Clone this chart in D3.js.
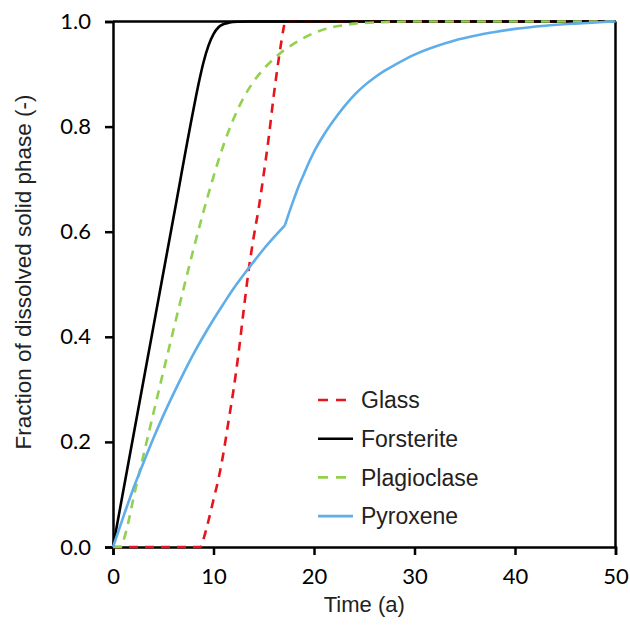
<!DOCTYPE html>
<html>
<head>
<meta charset="utf-8">
<script src="https://cdn.jsdelivr.net/npm/d3@7"></script>
<style>
  html, body { margin: 0; padding: 0; background: #fff; }
  svg { display: block; }
</style>
</head>
<body>
<svg id="chart" width="630" height="630"></svg>
<script>
// Dissolution curves: time in years, fraction of solid phase dissolved
const seriesNames = ["Glass", "Forsterite", "Plagioclase", "Pyroxene"];

const glassTime = [0, 8.7, 9.0, 9.5, 10, 10.5, 11, 11.5, 12, 12.5, 13, 13.5, 14, 14.5, 15, 15.5, 16, 16.5, 17, 17.1, 50];
const glassFrac = [0, 0, 0.015, 0.05, 0.09, 0.13, 0.18, 0.24, 0.30, 0.37, 0.45, 0.527, 0.59, 0.645, 0.71, 0.78, 0.86, 0.93, 0.99, 1.0, 1.0];

const forsteriteTime = [0, 2, 4, 6, 8, 8.5, 9, 9.5, 10, 10.5, 11, 11.6, 12.5, 13.5, 50];
const forsteriteFrac = [0, 0.209, 0.417, 0.625, 0.832, 0.88, 0.922, 0.954, 0.976, 0.989, 0.995, 0.998, 0.9995, 1.0, 1.0];

const plagioclaseTime = [0, 0.77, 1, 1.5, 2, 3, 4, 5, 6, 7, 8, 9, 10, 11, 12, 13, 14, 15, 16, 17, 18, 19, 20, 21, 22, 23, 24, 26, 28, 30, 50];
const plagioclaseFrac = [0, 0, 0.01, 0.045, 0.09, 0.172, 0.253, 0.333, 0.412, 0.49, 0.566, 0.638, 0.705, 0.765, 0.815, 0.855, 0.886, 0.91, 0.929, 0.945, 0.958, 0.969, 0.978, 0.985, 0.99, 0.993, 0.996, 0.998, 0.9995, 1.0, 1.0];

// Pyroxene has a sharp change of rate at 17.1 a; the two parts are drawn as separate smooth pieces
const pyroxeneBreak = 17.1;
const pyroxeneTime = [0, 1, 2, 3, 4, 5, 6, 7, 8, 9, 10, 11, 12, 13, 14, 15, 16, 17.1, 17.5, 18, 18.5, 19, 19.5, 20, 21, 22, 23, 24, 25, 26, 27, 28, 30, 32, 34, 36, 38, 40, 43, 46, 50];
const pyroxeneFrac = [0, 0.056, 0.11, 0.159, 0.206, 0.25, 0.291, 0.33, 0.367, 0.401, 0.433, 0.463, 0.492, 0.518, 0.543, 0.567, 0.589, 0.612, 0.635, 0.662, 0.688, 0.71, 0.732, 0.752, 0.785, 0.813, 0.838, 0.86, 0.878, 0.893, 0.906, 0.917, 0.937, 0.952, 0.964, 0.973, 0.98, 0.986, 0.992, 0.996, 1.0];

const xTicks = [0, 10, 20, 30, 40, 50];
const yTicks = [0, 0.2, 0.4, 0.6, 0.8, 1.0];

const width = 630, height = 630;
const margin = { top: 21.5, right: 14.5, bottom: 83, left: 113 };
const innerW = width - margin.left - margin.right;
const innerH = height - margin.top - margin.bottom;

const svg = d3.select("#chart");
const g = svg.append("g").attr("transform", `translate(${margin.left},${margin.top})`);

const x = d3.scaleLinear().domain([0, 50]).range([0, innerW]);
const y = d3.scaleLinear().domain([0, 1]).range([innerH, 0]);

const tickFont = "Lato, 'Open Sans', sans-serif";
const titleFont = "'Liberation Sans', Arial, sans-serif";

// Frame: top and right edges
g.append("line").attr("x1", 0).attr("x2", innerW).attr("y1", 0).attr("y2", 0)
  .attr("stroke", "#000").attr("stroke-width", 2.5);
g.append("line").attr("x1", innerW).attr("x2", innerW).attr("y1", 0).attr("y2", innerH)
  .attr("stroke", "#000").attr("stroke-width", 2.5);

// Axes
const xAxis = g.append("g").attr("transform", `translate(0,${innerH})`)
  .call(d3.axisBottom(x).tickValues(xTicks).tickFormat(d3.format("d")).tickSize(8).tickPadding(13));
const yAxis = g.append("g")
  .call(d3.axisLeft(y).tickValues(yTicks).tickFormat(d3.format(".1f")).tickSize(8).tickPadding(14));

[xAxis, yAxis].forEach(ax => {
  ax.select(".domain").attr("stroke", "#000").attr("stroke-width", 2.5);
  ax.selectAll(".tick line").attr("stroke", "#000").attr("stroke-width", 2.5);
  ax.selectAll(".tick text").attr("fill", "#000")
    .style("font-family", tickFont).style("font-size", "22px");
});

// Axis titles
svg.append("text")
  .attr("x", margin.left + innerW / 2).attr("y", 612)
  .attr("text-anchor", "middle")
  .style("font-family", titleFont).style("font-size", "22px").attr("fill", "#222")
  .text("Time (a)");
svg.append("text")
  .attr("transform", `translate(31,272) rotate(-90)`)
  .attr("text-anchor", "middle")
  .style("font-family", titleFont).style("font-size", "22.5px").attr("fill", "#222")
  .text("Fraction of dissolved solid phase (-)");

// Series
const series = [
  { name: seriesNames[0], t: glassTime, f: glassFrac, color: "#E8141B", dash: "9,7", breaks: [] },
  { name: seriesNames[1], t: forsteriteTime, f: forsteriteFrac, color: "#000000", dash: null, breaks: [] },
  { name: seriesNames[2], t: plagioclaseTime, f: plagioclaseFrac, color: "#92D050", dash: "9,7", breaks: [] },
  { name: seriesNames[3], t: pyroxeneTime, f: pyroxeneFrac, color: "#5FAEEA", dash: null, breaks: [pyroxeneBreak] }
];

const line = d3.line()
  .x(d => x(d[0]))
  .y(d => y(d[1]))
  .curve(d3.curveMonotoneX);

series.forEach(s => {
  const pts = s.t.map((t, i) => [t, s.f[i]]);
  // split into pieces at break times (break point shared by both pieces)
  const cuts = [-Infinity, ...s.breaks, Infinity];
  const pieces = [];
  for (let k = 0; k < cuts.length - 1; k++) {
    pieces.push(pts.filter(p => p[0] >= cuts[k] && p[0] <= cuts[k + 1]));
  }
  const d = pieces.map(pc => line(pc)).join("");
  const p = g.append("path")
    .attr("fill", "none")
    .attr("stroke", s.color)
    .attr("stroke-width", 2.6)
    .attr("stroke-linejoin", "round")
    .attr("d", d);
  if (s.dash) p.attr("stroke-dasharray", s.dash);
});

// Legend
const legend = svg.append("g");
const legX = 318, legY0 = 400, legStep = 38.7;
series.forEach((s, i) => {
  const yy = legY0 + i * legStep;
  const l = legend.append("line")
    .attr("x1", legX).attr("x2", legX + 35)
    .attr("y1", yy).attr("y2", yy)
    .attr("stroke", s.color).attr("stroke-width", 2.6);
  if (s.dash) l.attr("stroke-dasharray", "10,8");
  legend.append("text")
    .attr("x", legX + 43).attr("y", yy)
    .attr("dy", "0.36em")
    .style("font-family", titleFont).style("font-size", "23px").attr("fill", "#222")
    .text(s.name);
});
</script>
</body>
</html>
